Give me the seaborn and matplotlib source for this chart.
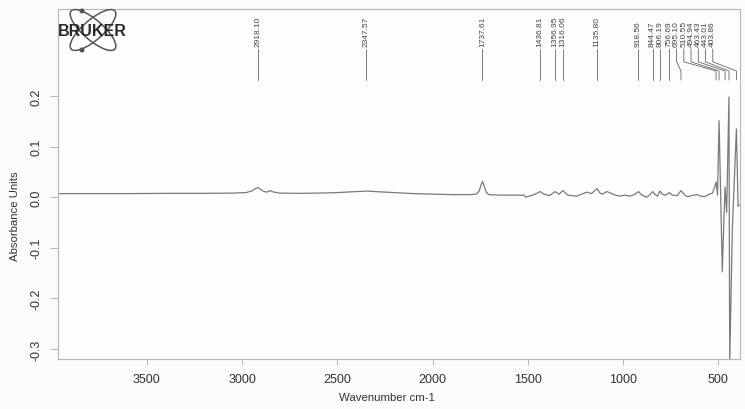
import numpy as np
import pandas as pd
import matplotlib
matplotlib.use("Agg")
import matplotlib.pyplot as plt
from matplotlib.patches import Ellipse, Circle
from matplotlib.transforms import IdentityTransform
import seaborn as sns

# IR absorbance spectrum (wavenumber in cm-1, absorbance units)
wavenumber = [3967, 3800, 3600, 3400, 3200, 3050, 2980, 2950, 2930, 2918, 2905, 2885,
              2870, 2850, 2835, 2800, 2700, 2600, 2500, 2400, 2347, 2300, 2200, 2100,
              2000, 1900, 1800, 1770, 1755, 1745, 1737, 1729, 1718, 1705, 1650, 1600,
              1520, 1510, 1474, 1450, 1436, 1415, 1385, 1356, 1335, 1316, 1290, 1243,
              1215, 1190, 1165, 1150, 1136, 1120, 1106, 1085, 1070, 1040, 1017, 990,
              965, 940, 918, 900, 875, 860, 844, 830, 818, 806, 790, 775, 756, 740,
              715, 695, 675, 660, 640, 613, 590, 571, 545, 530, 518, 510.55, 503,
              494.94, 478, 470, 463.43, 455, 443.01, 439, 425, 403.86, 395, 390]
absorbance = [0.007, 0.007, 0.007, 0.0075, 0.0075, 0.008, 0.009, 0.012, 0.017, 0.019,
              0.016, 0.011, 0.010, 0.013, 0.010, 0.008, 0.0075, 0.008, 0.009, 0.011,
              0.012, 0.011, 0.009, 0.007, 0.006, 0.005, 0.005, 0.006, 0.012, 0.024,
              0.031, 0.022, 0.010, 0.005, 0.004, 0.004, 0.004, 0.0, 0.004, 0.008,
              0.011, 0.006, 0.003, 0.011, 0.006, 0.013, 0.004, 0.002, 0.006, 0.010,
              0.007, 0.012, 0.017, 0.008, 0.006, 0.011, 0.009, 0.004, 0.002, 0.004,
              0.002, 0.005, 0.011, 0.004, 0.0, 0.004, 0.011, 0.005, 0.002, 0.012,
              0.005, 0.004, 0.009, 0.004, 0.003, 0.013, 0.004, 0.001, 0.003, 0.005,
              0.002, 0.001, 0.006, 0.008, 0.02, 0.03, 0.004, 0.151, -0.148, -0.05,
              0.02, -0.03, 0.198, -0.325, -0.06, 0.135, -0.018, -0.015]

# Picked peak positions
peaks = [2918.10, 2347.57, 1737.61, 1436.81, 1356.95, 1316.06, 1135.80, 918.56,
         844.47, 806.19, 756.69, 695.10, 510.55, 494.94, 463.43, 443.01, 403.86]

x_ticks = [3500, 3000, 2500, 2000, 1500, 1000, 500]
y_ticks = [0.2, 0.1, 0.0, -0.1, -0.2, -0.3]

sns.set_theme(style="white")
plt.rcParams["font.family"] = ["Liberation Sans", "DejaVu Sans"]

W, H = 745, 410
fig = plt.figure(figsize=(W / 100, H / 100), dpi=100, facecolor="#fbfbfb")
ax = fig.add_axes([58 / W, 50 / H, 682 / W, 350 / H])
ax.set_facecolor("#fdfdfd")

df = pd.DataFrame({"wn": wavenumber, "ab": absorbance})
sns.lineplot(data=df, x="wn", y="ab", ax=ax, color="#7a7a7a", linewidth=0.9)

ax.set_xlim(3967, 385)
ax.set_ylim(-0.32, 0.372)
ax.set_xticks(x_ticks)
ax.set_xticklabels([str(t) for t in x_ticks])
ax.set_yticks(y_ticks)
ax.set_yticklabels([f"{t:.1f}" for t in y_ticks], rotation=90, va="center")

ax.tick_params(axis="x", direction="out", length=4, width=0.6, color="#aaaaaa",
               pad=6, labelsize=9, labelcolor="#333333")
ax.tick_params(axis="y", direction="out", length=6, width=0.6, color="#aaaaaa",
               pad=5, labelsize=9, labelcolor="#333333")
ax.tick_params(bottom=True, left=True)
for s in ax.spines.values():
    s.set_color("#b5b5b5")
    s.set_linewidth(0.8)

ax.set_xlabel("Wavenumber cm-1", fontsize=8.2, color="#333333")
ax.xaxis.set_label_coords(0.482, -0.094)
ax.set_ylabel("Absorbance Units", fontsize=8.2, color="#333333")
ax.yaxis.set_label_coords(-0.055, 0.41)

# Peak labels, spread apart where they crowd towards the right edge
gap = 38.0
min_label = 528.0
order = sorted(peaks, reverse=True)
label_x = [0.0] * len(order)
label_x[-1] = max(order[-1], min_label)
for i in range(len(order) - 2, -1, -1):
    label_x[i] = max(order[i], label_x[i + 1] + gap)

tr = ax.get_xaxis_transform()
y_top, y_bend1, y_bend2, y_bot = 0.886, 0.849, 0.823, 0.797
for p, lx in zip(order, label_x):
    if abs(lx - p) < 1e-6:
        ax.plot([p, p], [y_top, y_bot], transform=tr, color="#666666", lw=0.6,
                clip_on=False)
    else:
        ax.plot([lx, lx, p, p], [y_top, y_bend1, y_bend2, y_bot], transform=tr,
                color="#666666", lw=0.6, clip_on=False)
    ax.text(lx, 0.893, f"{p:.2f}", transform=tr, rotation=90, ha="center",
            va="bottom", fontsize=6, color="#444444")

# BRUKER logo in the upper-left corner (pixel coordinates)
pix = IdentityTransform()
cx, cy = 93, H - 31
for ang in (41, -41):
    fig.add_artist(Ellipse((cx, cy), 58, 20, angle=ang, fill=False,
                           edgecolor="#555555", lw=1.1, transform=pix))
for dx, dy in ((-11, 19), (-11, -20)):
    fig.add_artist(Circle((cx + dx, cy + dy), 1.8, color="#555555", transform=pix))
fig.text(58 / W, 1 - 32 / H, "BRUKER", fontsize=11.5, fontweight="bold",
         color="#2a2a2a", ha="left", va="center")

fig.savefig("out.png", dpi=100, facecolor=fig.get_facecolor())
